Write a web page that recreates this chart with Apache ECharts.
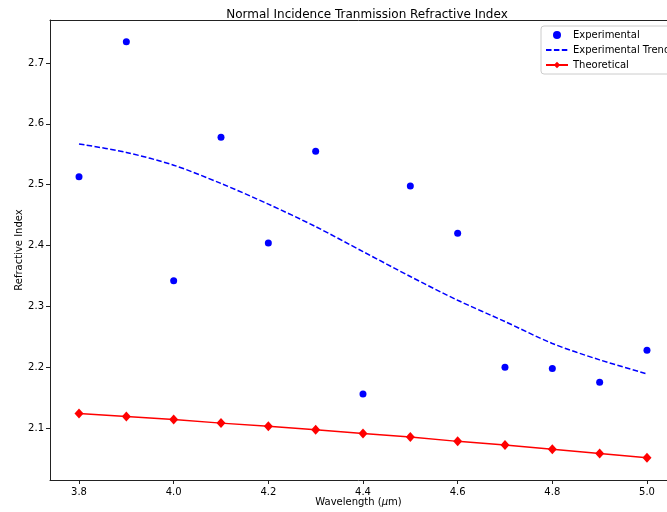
<!DOCTYPE html>
<html>
<head>
<meta charset="utf-8">
<script src="https://cdn.jsdelivr.net/npm/echarts@6/dist/echarts.min.js"></script>
<style>
  html, body { margin: 0; padding: 0; background: #fff; }
  #chart { width: 667px; height: 512px; }
</style>
</head>
<body>
<div id="chart"></div>
<script>
const wavelengths = [3.8, 3.9, 4.0, 4.1, 4.2, 4.3, 4.4, 4.5, 4.6, 4.7, 4.8, 4.9, 5.0]
const experimental = [2.513, 2.735, 2.342, 2.578, 2.404, 2.555, 2.156, 2.498, 2.420, 2.200, 2.198, 2.175, 2.228]
const experimentalTrend = [2.567, 2.553, 2.532, 2.502, 2.468, 2.431, 2.390, 2.349, 2.310, 2.275, 2.239, 2.212, 2.189]
const theoretical = [2.124, 2.119, 2.114, 2.108, 2.103, 2.097, 2.091, 2.085, 2.078, 2.072, 2.065, 2.058, 2.051]
const xTicks = [3.8, 4.0, 4.2, 4.4, 4.6, 4.8, 5.0]
const yTicks = [2.1, 2.2, 2.3, 2.4, 2.5, 2.6, 2.7]

const pairs = (ys) => wavelengths.map((x, i) => [x, ys[i]])

const chart = echarts.init(document.getElementById('chart'))
const font = 'DejaVu Sans'
const axisColor = '#222'

const option = {
  animation: false,
  textStyle: { fontFamily: font },
  title: {
    text: 'Normal Incidence Tranmission Refractive Index',
    left: 362,
    top: 4,
    textAlign: 'center',
    textStyle: { fontFamily: font, fontSize: 12, fontWeight: 'normal', color: '#000' }
  },
  legend: {
    orient: 'vertical',
    left: 541,
    top: 26,
    padding: [4, 8, 4, 4],
    itemWidth: 22,
    itemHeight: 8,
    itemGap: 5,
    borderColor: '#ccc',
    borderWidth: 1,
    borderRadius: 3,
    backgroundColor: '#fff',
    textStyle: { fontFamily: font, fontSize: 10, color: '#000' },
    data: [
      { name: 'Experimental', icon: 'circle', itemStyle: { opacity: 1 } },
      { name: 'Experimental Trend', itemStyle: { opacity: 0 } },
      { name: 'Theoretical' }
    ]
  },
  grid: {
    left: 50,
    right: 0,
    top: 20,
    bottom: 32,
    outerBoundsMode: 'none'
  },
  xAxis: [
    {
      type: 'value',
      min: 3.7387,
      max: 5.0423,
      name: 'Wavelength ({i|μ}m)',
      nameLocation: 'middle',
      nameGap: 17,
      nameMoveOverlap: false,
      nameTextStyle: {
        fontFamily: font, fontSize: 10, color: '#000',
        rich: { i: { fontStyle: 'italic', fontFamily: font, fontSize: 10 } }
      },
      splitLine: { show: false },
      axisLine: { lineStyle: { color: axisColor, width: 1 } },
      axisTick: { show: true, length: 4, customValues: xTicks, lineStyle: { color: axisColor } },
      axisLabel: {
        customValues: xTicks,
        margin: 7,
        fontSize: 10,
        color: '#000',
        formatter: (v) => v.toFixed(1)
      }
    },
    {
      type: 'value',
      position: 'top',
      min: 3.7387,
      max: 5.0423,
      splitLine: { show: false },
      axisLine: { show: true, lineStyle: { color: axisColor, width: 1 } },
      axisTick: { show: false },
      axisLabel: { show: false }
    }
  ],
  yAxis: {
    type: 'value',
    min: 2.0145,
    max: 2.7707,
    name: 'Refractive Index',
    nameLocation: 'middle',
    nameGap: 26,
    nameMoveOverlap: false,
    nameTextStyle: { fontFamily: font, fontSize: 10, color: '#000' },
    splitLine: { show: false },
    axisLine: { show: true, lineStyle: { color: axisColor, width: 1 } },
    axisTick: { show: true, length: 4, customValues: yTicks, lineStyle: { color: axisColor } },
    axisLabel: {
      customValues: yTicks,
      margin: 6,
      fontSize: 10,
      color: '#000',
      formatter: (v) => v.toFixed(1)
    }
  },
  series: [
    {
      name: 'Experimental',
      type: 'scatter',
      data: pairs(experimental),
      symbol: 'circle',
      symbolSize: 7,
      itemStyle: { color: '#0000ff', opacity: 1 },
      z: 3
    },
    {
      name: 'Experimental Trend',
      type: 'line',
      data: pairs(experimentalTrend),
      smooth: 0.3,
      symbol: 'none',
      lineStyle: { color: '#0000ff', width: 1.5, type: [5.5, 2.4] },
      itemStyle: { color: '#0000ff' },
      z: 2
    },
    {
      name: 'Theoretical',
      type: 'line',
      data: pairs(theoretical),
      symbol: 'diamond',
      symbolSize: [9, 10],
      lineStyle: { color: '#ff0000', width: 1.5 },
      itemStyle: { color: '#ff0000' },
      z: 2
    }
  ]
}

chart.setOption(option)
</script>
</body>
</html>
